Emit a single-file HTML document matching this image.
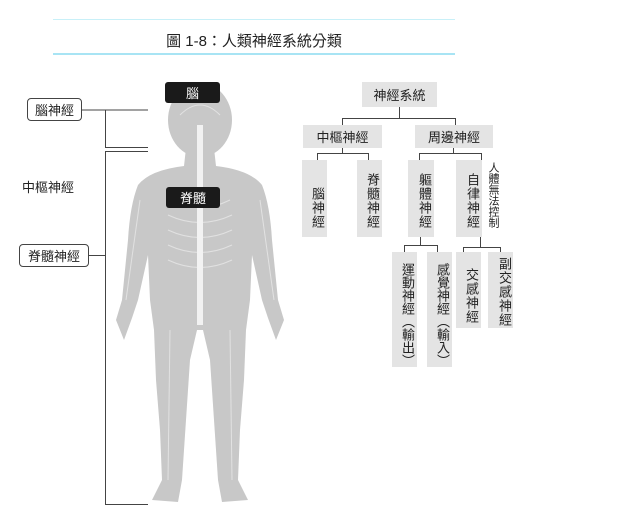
<!DOCTYPE html>
<html><head><meta charset="utf-8"><style>
body{margin:0;width:628px;height:526px;background:#fff;position:relative;overflow:hidden;font-family:"Liberation Sans","Noto Sans CJK TC",sans-serif;color:#222}
.a{position:absolute}
.b{position:absolute;background:#e4e4e4;font-size:13px;text-align:center;box-sizing:border-box}
.v{writing-mode:vertical-rl;text-orientation:upright;display:flex;align-items:flex-start;justify-content:center;padding-top:16px;line-height:25px;letter-spacing:1px}
.h{display:flex;align-items:center;justify-content:center}
.l{position:absolute;background:#444}
</style></head><body>
<div class="a" style="left:53px;top:19px;width:402px;height:1px;background:#c8f0f8"></div>
<div class="a" style="left:53px;top:53px;width:402px;height:2px;background:#a8e4f4"></div>
<div class="a" style="left:53px;top:30px;width:402px;text-align:center;font-size:15px">圖 1-8：人類神經系統分類</div>

<svg class="a" style="left:0;top:0" width="628" height="526">
<g fill="#c8c8c8">
<ellipse cx="200" cy="120" rx="32" ry="37"/>
<path d="M186 148 L214 148 L216 166 Q250 170 262 185 Q270 205 272 240 L278 300 L284 320 L276 340 L268 318 L262 300 L252 255 L250 300 L246 330 L244 380 L240 430 L238 480 L248 500 L222 502 L218 480 L214 420 L210 360 L203 330 L197 330 L190 360 L186 420 L182 480 L178 502 L152 500 L162 480 L160 430 L156 380 L154 330 L150 300 L148 255 L138 300 L132 318 L124 340 L116 320 L122 300 L128 240 Q130 205 138 185 Q150 170 184 166 Z"/>
</g>
<g stroke="#e8e8e8" stroke-width="1" fill="none" opacity="0.8">
<path d="M170 200 Q200 215 230 200 M168 215 Q200 230 232 215 M168 230 Q200 245 232 230 M168 245 Q200 260 232 245 M168 260 Q200 275 232 260"/>
<path d="M180 115 Q200 95 220 115"/>
<path d="M140 200 L126 300 M260 200 L274 300 M170 330 L168 480 M230 330 L232 480"/>
</g>
<rect x="197" y="125" width="6" height="200" fill="#f2f2f2"/>
<g stroke="#444" stroke-width="1" fill="none">
<line x1="82" y1="110" x2="148" y2="110"/>
<line x1="105.5" y1="110" x2="105.5" y2="147"/>
<line x1="105" y1="147.5" x2="148" y2="147.5"/>
<line x1="105" y1="151.5" x2="148" y2="151.5"/>
<line x1="105.5" y1="151" x2="105.5" y2="505"/>
<line x1="105" y1="504.5" x2="148" y2="504.5"/>
<line x1="89" y1="255.5" x2="105" y2="255.5"/>
<!-- tree -->
<line x1="399.5" y1="107" x2="399.5" y2="118"/>
<line x1="342" y1="118.5" x2="456" y2="118.5"/>
<line x1="342.5" y1="118" x2="342.5" y2="125"/>
<line x1="455.5" y1="118" x2="455.5" y2="125"/>
<line x1="342.5" y1="148" x2="342.5" y2="153"/>
<line x1="317" y1="153.5" x2="369" y2="153.5"/>
<line x1="317.5" y1="153" x2="317.5" y2="160"/>
<line x1="368.5" y1="153" x2="368.5" y2="160"/>
<line x1="453.5" y1="148" x2="453.5" y2="153"/>
<line x1="419" y1="153.5" x2="482" y2="153.5"/>
<line x1="419.5" y1="153" x2="419.5" y2="160"/>
<line x1="481.5" y1="153" x2="481.5" y2="160"/>
<line x1="420.5" y1="237" x2="420.5" y2="245"/>
<line x1="404" y1="245.5" x2="438" y2="245.5"/>
<line x1="404.5" y1="245" x2="404.5" y2="252"/>
<line x1="437.5" y1="245" x2="437.5" y2="252"/>
<line x1="480.5" y1="237" x2="480.5" y2="247"/>
<line x1="463" y1="247.5" x2="501" y2="247.5"/>
<line x1="463.5" y1="247" x2="463.5" y2="252"/>
<line x1="500.5" y1="247" x2="500.5" y2="252"/>
</g>
</svg>

<div class="a h" style="left:27px;top:98px;width:55px;height:23px;border:1px solid #444;border-radius:4px;box-sizing:border-box;font-size:13px;background:#fff">腦神經</div>
<div class="a h" style="left:19px;top:244px;width:70px;height:23px;border:1px solid #444;border-radius:4px;box-sizing:border-box;font-size:13px;background:#fff">脊髓神經</div>
<div class="a" style="left:22px;top:177px;font-size:13px">中樞神經</div>
<div class="a h" style="left:165px;top:82px;width:55px;height:21px;background:#1a1a1a;color:#fff;border-radius:3px;font-size:13px">腦</div>
<div class="a h" style="left:166px;top:187px;width:54px;height:21px;background:#1a1a1a;color:#fff;border-radius:3px;font-size:13px">脊髓</div>

<div class="b h" style="left:362px;top:82px;width:75px;height:25px">神經系統</div>
<div class="b h" style="left:303px;top:125px;width:79px;height:23px">中樞神經</div>
<div class="b h" style="left:415px;top:125px;width:78px;height:23px">周邊神經</div>
<div class="b v" style="left:302px;top:160px;width:25px;height:77px;padding-top:18px;line-height:20px">腦神經</div>
<div class="b v" style="left:357px;top:160px;width:25px;height:77px;padding-top:5px;line-height:20px">脊髓神經</div>
<div class="b v" style="left:408px;top:160px;width:26px;height:77px;padding-top:5px;line-height:20px">軀體神經</div>
<div class="b v" style="left:456px;top:160px;width:26px;height:77px;padding-top:5px;line-height:20px">自律神經</div>
<div class="a" style="left:486px;top:162px;width:14px;writing-mode:vertical-rl;text-orientation:upright;font-size:11px;line-height:14px;letter-spacing:0">人體無法控制</div>
<div class="b v" style="left:392px;top:252px;width:25px;height:115px;padding-top:10px;line-height:20px;letter-spacing:0">運動神經（輸出）</div>
<div class="b v" style="left:427px;top:252px;width:25px;height:115px;padding-top:10px;line-height:20px;letter-spacing:0">感覺神經（輸入）</div>
<div class="b v" style="left:456px;top:252px;width:25px;height:76px;padding-top:12px;line-height:20px">交感神經</div>
<div class="b v" style="left:488px;top:252px;width:25px;height:76px;padding-top:3px;line-height:17px">副交感神經</div>
</body></html>
